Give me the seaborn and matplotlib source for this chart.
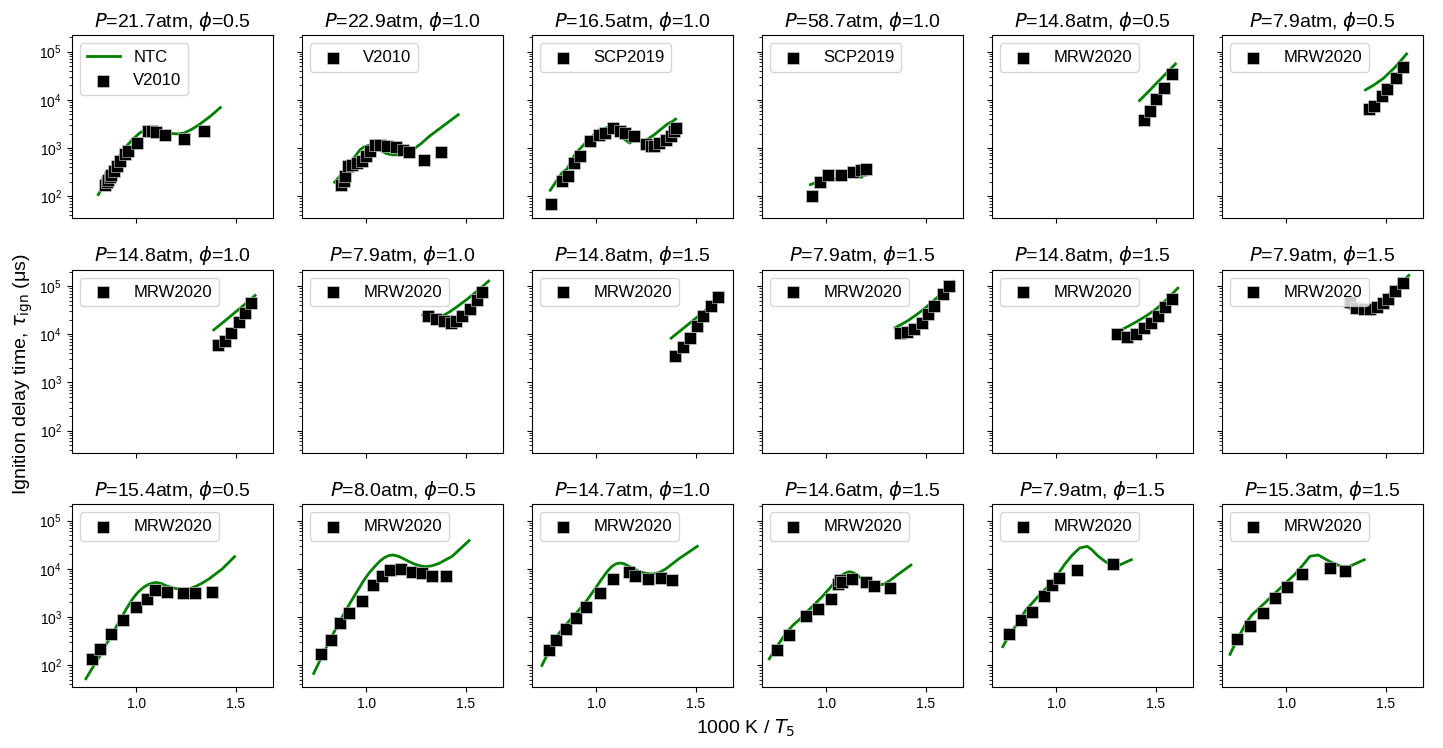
import numpy as np
import pandas as pd
import matplotlib
matplotlib.use("Agg")
import matplotlib.pyplot as plt
import seaborn as sns

plt.rcParams['font.family'] = ['Liberation Sans', 'DejaVu Sans']

# panel titles and data sources
titles = [
    r'$P$=21.7atm, $\phi$=0.5', r'$P$=22.9atm, $\phi$=1.0', r'$P$=16.5atm, $\phi$=1.0',
    r'$P$=58.7atm, $\phi$=1.0', r'$P$=14.8atm, $\phi$=0.5', r'$P$=7.9atm, $\phi$=0.5',
    r'$P$=14.8atm, $\phi$=1.0', r'$P$=7.9atm, $\phi$=1.0', r'$P$=14.8atm, $\phi$=1.5',
    r'$P$=7.9atm, $\phi$=1.5', r'$P$=14.8atm, $\phi$=1.5', r'$P$=7.9atm, $\phi$=1.5',
    r'$P$=15.4atm, $\phi$=0.5', r'$P$=8.0atm, $\phi$=0.5', r'$P$=14.7atm, $\phi$=1.0',
    r'$P$=14.6atm, $\phi$=1.5', r'$P$=7.9atm, $\phi$=1.5', r'$P$=15.3atm, $\phi$=1.5',
]
sources = ['V2010', 'V2010', 'SCP2019', 'SCP2019'] + ['MRW2020'] * 14

# experiments (x = 1000/T5, y = ignition delay in us) and NTC model curves
exp_x_01 = [0.846, 0.852, 0.859, 0.868, 0.876, 0.889, 0.905, 0.917, 0.942, 0.959, 1.003, 1.058, 1.080, 1.099, 1.142, 1.242, 1.341]
exp_y_01 = [171, 195, 221, 250, 280, 329, 420, 529, 764, 851, 1268, 2285, 2250, 2145, 1887, 1535, 2285]
ntc_x_01 = [0.810, 0.850, 0.884, 0.920, 0.950, 0.985, 1.017, 1.040, 1.058, 1.085, 1.116, 1.150, 1.182, 1.210, 1.240, 1.275, 1.315, 1.370, 1.422]
ntc_y_01 = [108, 210, 417, 720, 1080, 1550, 2040, 2330, 2450, 2450, 2320, 2150, 1990, 1960, 2050, 2400, 3040, 4500, 6920]

exp_x_02 = [0.875, 0.888, 0.896, 0.908, 0.929, 0.954, 0.979, 1.000, 1.020, 1.044, 1.069, 1.102, 1.148, 1.184, 1.217, 1.291, 1.377]
exp_y_02 = [174, 204, 259, 417, 452, 489, 529, 672, 851, 1172, 1135, 1081, 1047, 896, 813, 574, 813]
ntc_x_02 = [0.842, 0.880, 0.921, 0.950, 0.970, 0.990, 1.012, 1.030, 1.053, 1.075, 1.102, 1.135, 1.168, 1.200, 1.234, 1.275, 1.316, 1.390, 1.461]
ntc_y_02 = [195, 300, 489, 720, 924, 1060, 1136, 1110, 1000, 880, 764, 720, 727, 790, 924, 1230, 1743, 2950, 4900]

exp_x_03 = [0.773, 0.831, 0.860, 0.888, 0.921, 0.970, 1.012, 1.044, 1.082, 1.118, 1.143, 1.192,
            1.250, 1.275, 1.291, 1.316, 1.349, 1.373, 1.390, 1.398]
exp_y_03 = [70, 204, 268, 490, 693, 1374, 1888, 2043, 2593, 2213, 2043, 1743,
            1230, 1081, 1117, 1268, 1486, 1799, 2213, 2593]
ntc_x_03 = [0.770, 0.831, 0.855, 0.896, 0.962, 1.012, 1.056, 1.094, 1.168, 1.184, 1.242, 1.291, 1.357, 1.382, 1.398]
ntc_y_03 = [133, 314, 368, 764, 1486, 2322, 2680, 2110, 1268, 1414, 1374, 1888, 3140, 3565, 3980]

exp_x_04 = [0.929, 0.970, 1.007, 1.073, 1.136, 1.177, 1.199]
exp_y_04 = [100, 195, 281, 272, 319, 345, 374]
ntc_x_04 = [0.921, 1.003, 1.070, 1.127, 1.177, 1.199]
ntc_y_04 = [174, 232, 221, 281, 247, 294]

exp_x_05 = [1.438, 1.470, 1.503, 1.541, 1.580]
exp_y_05 = [3733, 5917, 10480, 17400, 34500]
ntc_x_05 = [1.418, 1.460, 1.503, 1.550, 1.598]
ntc_y_05 = [9680, 14400, 22100, 34800, 55600]

exp_x_06 = [1.414, 1.442, 1.480, 1.508, 1.551, 1.587]
exp_y_06 = [6410, 7520, 11730, 16630, 28000, 47400]
ntc_x_06 = [1.398, 1.440, 1.488, 1.545, 1.604]
ntc_y_06 = [16100, 20300, 28000, 47000, 89500]

exp_x_07 = [1.411, 1.447, 1.477, 1.517, 1.546, 1.576]
exp_y_07 = [6030, 7190, 10700, 17850, 27500, 45000]
ntc_x_07 = [1.389, 1.440, 1.497, 1.545, 1.596]
ntc_y_07 = [12360, 18300, 28800, 42000, 64000]

exp_x_08 = [1.309, 1.350, 1.391, 1.423, 1.451, 1.480, 1.521, 1.554, 1.582]
exp_y_08 = [23400, 20300, 19300, 17000, 19300, 23800, 33800, 50300, 75000]
ntc_x_08 = [1.284, 1.310, 1.333, 1.360, 1.382, 1.420, 1.464, 1.505, 1.546, 1.580, 1.614]
ntc_y_08 = [25400, 22900, 21600, 22000, 23800, 29500, 39600, 53000, 72600, 96000, 127000]

exp_x_09 = [1.397, 1.434, 1.470, 1.505, 1.538, 1.575, 1.611]
exp_y_09 = [3510, 5570, 8440, 14700, 23800, 38400, 59000]
ntc_x_09 = [1.376, 1.440, 1.500, 1.570, 1.636]
ntc_y_09 = [8300, 13600, 21600, 37500, 64000]

exp_x_10 = [1.370, 1.403, 1.441, 1.480, 1.510, 1.543, 1.584, 1.617]
exp_y_10 = [10500, 11070, 12970, 17300, 26600, 38400, 67100, 100000]
ntc_x_10 = [1.345, 1.378, 1.411, 1.455, 1.502, 1.570, 1.637]
ntc_y_10 = [13600, 16100, 19300, 25800, 36600, 65000, 125000]

exp_x_11 = [1.307, 1.356, 1.402, 1.438, 1.475, 1.511, 1.548, 1.582]
exp_y_11 = [10200, 8710, 10200, 13400, 17000, 24500, 36600, 54600]
ntc_x_11 = [1.287, 1.310, 1.331, 1.365, 1.405, 1.455, 1.503, 1.555, 1.610]
ntc_y_11 = [11600, 11900, 12600, 14900, 18400, 24600, 33800, 53000, 90800]

exp_x_12 = [1.321, 1.349, 1.390, 1.423, 1.456, 1.488, 1.513, 1.546, 1.584]
exp_y_12 = [46400, 35500, 32700, 33800, 36600, 45000, 54600, 77400, 115000]
ntc_x_12 = [1.296, 1.325, 1.357, 1.390, 1.423, 1.455, 1.488, 1.520, 1.554, 1.585, 1.615]
ntc_y_12 = [37800, 34100, 32200, 33300, 36600, 43900, 54600, 71000, 95300, 126000, 167000]

exp_x_13 = [0.781, 0.818, 0.876, 0.934, 1.000, 1.053, 1.096, 1.152, 1.237, 1.295, 1.381]
exp_y_13 = [135, 212, 450, 853, 1615, 2333, 3597, 3217, 3063, 3063, 3217]
ntc_x_13 = [0.748, 0.784, 0.818, 0.850, 0.884, 0.918, 0.950, 0.980, 1.008, 1.035, 1.058, 1.080, 1.099, 1.125,
            1.149, 1.190, 1.232, 1.265, 1.298, 1.330, 1.364, 1.430, 1.493]
ntc_y_13 = [52, 92, 154, 270, 472, 840, 1445, 2300, 3217, 4050, 4645, 5020, 5190, 4950,
            4430, 3950, 3656, 3800, 4286, 5000, 6095, 9800, 17800]

exp_x_14 = [0.773, 0.822, 0.868, 0.913, 0.977, 1.036, 1.077, 1.122, 1.176, 1.230, 1.280, 1.329, 1.398]
exp_y_14 = [167, 327, 738, 1230, 2090, 4570, 7140, 9370, 9840, 8390, 8000, 6920, 6920]
ntc_x_14 = [0.737, 0.763, 0.789, 0.822, 0.855, 0.888, 0.921, 0.955, 0.987, 1.015, 1.044, 1.070, 1.094,
            1.115, 1.135, 1.160, 1.184, 1.213, 1.242, 1.270, 1.299, 1.330, 1.365, 1.431, 1.516]
ntc_y_14 = [67, 112, 187, 350, 650, 1150, 1995, 3400, 5620, 8200, 11200, 14500, 17200,
            18800, 19280, 18200, 16400, 14200, 12500, 11500, 11000, 11500, 12900, 18070, 38300]

exp_x_15 = [0.766, 0.798, 0.848, 0.897, 0.951, 1.020, 1.085, 1.167, 1.197, 1.262, 1.326, 1.380]
exp_y_15 = [202, 327, 571, 938, 1640, 3063, 6095, 8670, 6920, 6095, 6300, 5810]
ntc_x_15 = [0.728, 0.763, 0.798, 0.835, 0.872, 0.913, 0.954, 0.992, 1.028, 1.055, 1.077, 1.098, 1.118,
            1.140, 1.159, 1.188, 1.216, 1.250, 1.282, 1.315, 1.348, 1.413, 1.507]
ntc_y_15 = [98, 190, 371, 590, 893, 1380, 2222, 3700, 6095, 8700, 11010, 12500, 13130,
            12700, 11530, 10000, 8670, 8000, 7740, 8300, 9840, 15880, 29170]

exp_x_16 = [0.755, 0.815, 0.897, 0.959, 1.022, 1.058, 1.072, 1.079, 1.132, 1.199, 1.240, 1.318]
exp_y_16 = [202, 422, 1050, 1445, 2333, 4800, 5800, 5190, 6095, 5190, 4286, 3955]
ntc_x_16 = [0.715, 0.758, 0.801, 0.835, 0.868, 0.900, 0.934, 0.975, 1.017, 1.047, 1.075, 1.096, 1.116,
            1.132, 1.149, 1.175, 1.199, 1.220, 1.240, 1.265, 1.290, 1.320, 1.356, 1.425]
ntc_y_16 = [135, 260, 472, 680, 893, 1230, 1694, 2500, 3890, 5500, 7140, 8100, 8670,
            8400, 7740, 6400, 5360, 4800, 4570, 4550, 4800, 5700, 7380, 11900]

exp_x_17 = [0.762, 0.823, 0.880, 0.941, 0.979, 1.015, 1.105, 1.285]
exp_y_17 = [435, 853, 1270, 2655, 4570, 6295, 9370, 12500]
ntc_x_17 = [0.733, 0.765, 0.798, 0.848, 0.913, 0.979, 1.012, 1.044, 1.080, 1.118, 1.156, 1.180,
            1.208, 1.237, 1.266, 1.310, 1.377]
ntc_y_17 = [241, 420, 650, 1377, 2740, 5190, 8000, 12500, 19000, 26900, 29200, 24500,
            18700, 15000, 12500, 11530, 15380]

exp_x_18 = [0.755, 0.818, 0.884, 0.945, 1.003, 1.078, 1.222, 1.293]
exp_y_18 = [343, 650, 1230, 2410, 4085, 7740, 10160, 8790]
ntc_x_18 = [0.719, 0.745, 0.772, 0.800, 0.829, 0.862, 0.896, 0.929, 0.962, 1.003, 1.045, 1.085, 1.119,
            1.161, 1.195, 1.227, 1.276, 1.318, 1.392]
ntc_y_18 = [167, 280, 457, 760, 1100, 1480, 1990, 2700, 3656, 5300, 7740, 12000, 18070,
            19270, 16000, 13550, 11200, 11200, 15380]

panels = [
    (exp_x_01, exp_y_01, ntc_x_01, ntc_y_01), (exp_x_02, exp_y_02, ntc_x_02, ntc_y_02),
    (exp_x_03, exp_y_03, ntc_x_03, ntc_y_03), (exp_x_04, exp_y_04, ntc_x_04, ntc_y_04),
    (exp_x_05, exp_y_05, ntc_x_05, ntc_y_05), (exp_x_06, exp_y_06, ntc_x_06, ntc_y_06),
    (exp_x_07, exp_y_07, ntc_x_07, ntc_y_07), (exp_x_08, exp_y_08, ntc_x_08, ntc_y_08),
    (exp_x_09, exp_y_09, ntc_x_09, ntc_y_09), (exp_x_10, exp_y_10, ntc_x_10, ntc_y_10),
    (exp_x_11, exp_y_11, ntc_x_11, ntc_y_11), (exp_x_12, exp_y_12, ntc_x_12, ntc_y_12),
    (exp_x_13, exp_y_13, ntc_x_13, ntc_y_13), (exp_x_14, exp_y_14, ntc_x_14, ntc_y_14),
    (exp_x_15, exp_y_15, ntc_x_15, ntc_y_15), (exp_x_16, exp_y_16, ntc_x_16, ntc_y_16),
    (exp_x_17, exp_y_17, ntc_x_17, ntc_y_17), (exp_x_18, exp_y_18, ntc_x_18, ntc_y_18),
]

fig, axes = plt.subplots(3, 6, figsize=(14.43, 7.48), dpi=100, sharex=True, sharey=True)
fig.subplots_adjust(left=0.0497, right=0.9864, top=0.953, bottom=0.0815, wspace=0.14, hspace=0.281)

for i, ax in enumerate(axes.flat):
    ex, ey, mx, my = panels[i]
    model = pd.DataFrame({'x': mx, 'y': my})
    exp = pd.DataFrame({'x': ex, 'y': ey})
    sns.lineplot(data=model, x='x', y='y', ax=ax, color='green', linewidth=2,
                 sort=False, estimator=None, label='NTC' if i == 0 else None)
    sns.scatterplot(data=exp, x='x', y='y', ax=ax, marker='s', color='black', s=64,
                    edgecolor='0.88', linewidth=0.4, label=sources[i], zorder=3)
    ax.set_yscale('log')
    ax.set_title(titles[i], fontsize=14)
    ax.set_xlabel('')
    ax.set_ylabel('')
    ax.tick_params(labelsize=10)
    ax.legend(loc='upper left', fontsize=12)

axes[0, 0].set_xlim(0.677, 1.688)
axes[0, 0].set_ylim(35, 2.2e5)
axes[0, 0].set_xticks([1.0, 1.5])

fig.text(0.517, 0.012, r'1000 K / $T_5$', ha='center', va='bottom', fontsize=14)
fig.text(0.008, 0.5, r'Ignition delay time, $\tau_{\mathrm{ign}}$ (μs)', ha='left', va='center',
         rotation=90, fontsize=14)

fig.savefig('out.png', dpi=100)
